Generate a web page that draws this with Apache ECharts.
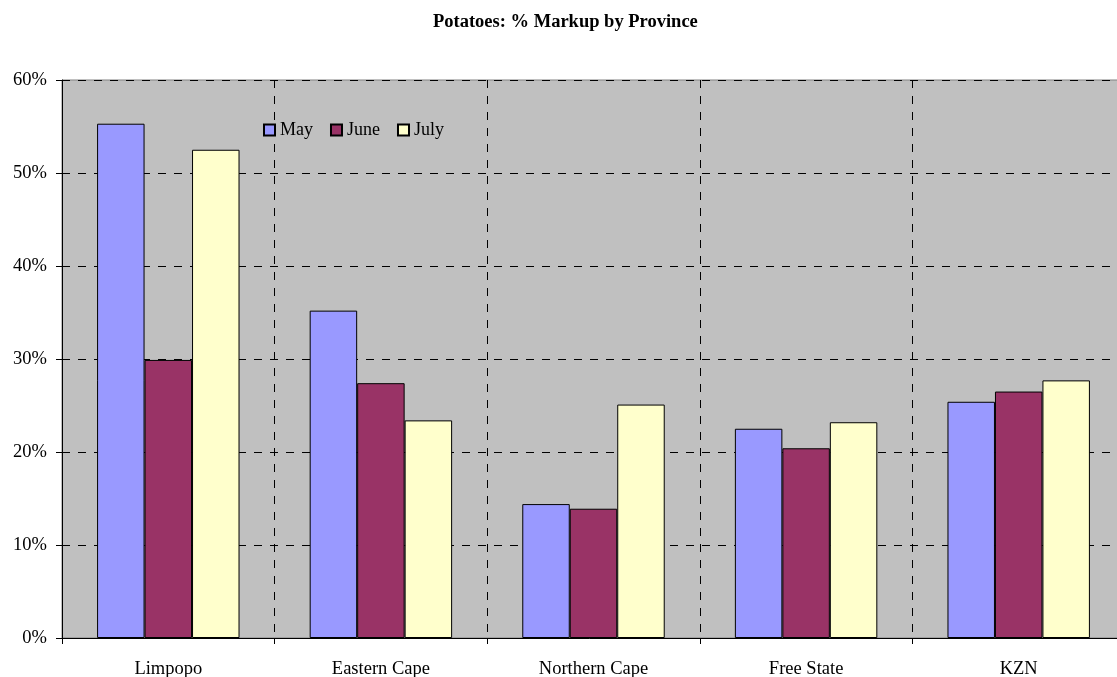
<!DOCTYPE html>
<html>
<head>
<meta charset="utf-8">
<script src="https://cdn.jsdelivr.net/npm/echarts@6/dist/echarts.min.js"></script>
<style>
html,body{margin:0;padding:0;background:#fff;}
#chart{width:1117px;height:677px;}
</style>
</head>
<body>
<div id="chart"></div>
<script>
// Provinces and monthly markup percentages
const provinces = ['Limpopo', 'Eastern Cape', 'Northern Cape', 'Free State', 'KZN'];
const mayValues = [55.3, 35.2, 14.4, 22.5, 25.4];
const juneValues = [29.9, 27.4, 13.9, 20.4, 26.5];
const julyValues = [52.5, 23.4, 25.1, 23.2, 27.7];
const yTicks = [0, 10, 20, 30, 40, 50, 60];

const font = 'Liberation Serif, Times New Roman, serif';
const chart = echarts.init(document.getElementById('chart'));

function barSeries(name, data, color) {
  return {
    name: name,
    type: 'bar',
    data: data,
    barGap: '0%',
    barCategoryGap: '33%',
    itemStyle: { color: color, borderColor: '#000', borderWidth: 1 },
    emphasis: { disabled: true }
  };
}

chart.setOption({
  animation: false,
  backgroundColor: '#fff',
  title: {
    text: 'Potatoes: % Markup by Province',
    left: 428,
    top: 8,
    textStyle: { fontFamily: font, fontSize: 18.5, fontWeight: 'bold', color: '#000' }
  },
  legend: {
    left: 258,
    top: 116,
    itemWidth: 11,
    itemHeight: 11,
    itemGap: 17,
    icon: 'rect',
    textStyle: { fontFamily: font, fontSize: 18, color: '#000' },
    data: ['May', 'June', 'July']
  },
  grid: {
    left: 62,
    top: 80,
    right: -8,
    bottom: 39,
    outerBoundsMode: 'none',
    containLabel: false,
    show: true,
    backgroundColor: '#c0c0c0',
    borderColor: '#808080',
    borderWidth: 1
  },
  xAxis: {
    type: 'category',
    data: provinces,
    axisLine: { lineStyle: { color: '#000', width: 1 } },
    axisTick: { show: true, length: 6, lineStyle: { color: '#000' } },
    axisLabel: { fontFamily: font, fontSize: 18.5, color: '#000', margin: 22 },
    splitLine: { show: true, lineStyle: { color: '#000', type: [8, 8], width: 1 } }
  },
  yAxis: {
    type: 'value',
    min: yTicks[0],
    max: yTicks[yTicks.length - 1],
    interval: 10,
    axisLine: { show: true, lineStyle: { color: '#000', width: 1 } },
    axisTick: { show: true, length: 6, lineStyle: { color: '#000' } },
    axisLabel: { fontFamily: font, fontSize: 18.5, color: '#000', margin: 15, formatter: '{value}%' },
    splitLine: { show: true, lineStyle: { color: '#000', type: [8, 8], width: 1 } }
  },
  series: [
    barSeries('May', mayValues, '#9999ff'),
    barSeries('June', juneValues, '#993366'),
    barSeries('July', julyValues, '#ffffcc')
  ]
});
</script>
</body>
</html>
